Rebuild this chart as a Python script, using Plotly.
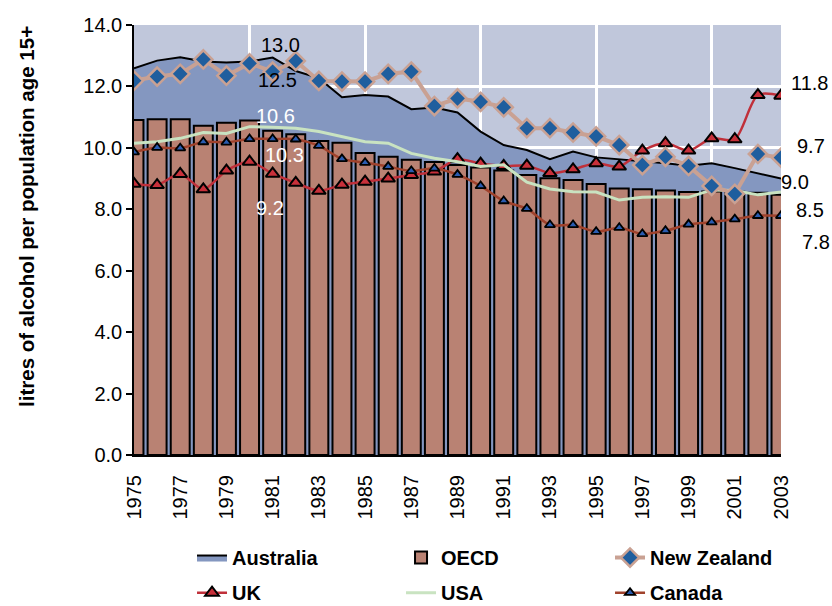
import plotly.graph_objects as go

# ---------------- data ----------------
years = list(range(1975, 2004))

australia = [12.59, 12.84, 12.95, 12.81, 12.78, 12.81, 12.94, 12.50, 12.27, 11.65,
             11.72, 11.67, 11.26, 11.31, 11.15, 10.53, 10.09, 9.93, 9.63, 9.88,
             9.69, 9.63, 9.58, 9.50, 9.42, 9.50, 9.34, 9.17, 9.00]

oecd = [10.91, 10.93, 10.93, 10.72, 10.82, 10.89, 10.56, 10.44, 10.22, 10.17,
        9.83, 9.71, 9.61, 9.54, 9.44, 9.36, 9.26, 9.12, 9.01, 8.95,
        8.82, 8.68, 8.65, 8.61, 8.56, 8.58, 8.57, 8.54, 8.47]

new_zealand = [12.19, 12.32, 12.41, 12.88, 12.35, 12.75, 12.48, 12.83, 12.18, 12.16,
               12.16, 12.41, 12.48, 11.36, 11.61, 11.50, 11.32, 10.64, 10.64, 10.50,
               10.37, 10.09, 9.44, 9.71, 9.41, 8.76, 8.50, 9.80, 9.68]

uk = [8.83, 8.79, 9.15, 8.65, 9.26, 9.55, 9.16, 8.86, 8.60, 8.80,
      8.90, 9.00, 9.12, 9.23, 9.63, 9.49, 9.41, 9.42, 9.18, 9.30,
      9.50, 9.39, 9.91, 10.15, 9.91, 10.31, 10.28, 11.72, 11.70]

usa = [10.15, 10.20, 10.31, 10.50, 10.47, 10.69, 10.67, 10.64, 10.53, 10.37,
       10.20, 10.15, 9.82, 9.66, 9.55, 9.39, 9.45, 8.88, 8.66, 8.57,
       8.56, 8.30, 8.39, 8.41, 8.39, 8.63, 8.61, 8.47, 8.56]

canada = [9.86, 10.01, 9.99, 10.19, 10.18, 10.29, 10.29, 10.28, 10.07, 9.64,
          9.52, 9.39, 9.25, 9.33, 9.13, 8.76, 8.27, 8.02, 7.49, 7.49,
          7.27, 7.40, 7.20, 7.30, 7.51, 7.58, 7.68, 7.79, 7.79]

x_tick_vals = list(range(1975, 2004, 2))
x_tick_labels = [str(v) for v in x_tick_vals]
y_tick_vals = [0, 2, 4, 6, 8, 10, 12, 14]
y_tick_labels = ["0.0", "2.0", "4.0", "6.0", "8.0", "10.0", "12.0", "14.0"]

# value labels (text, year position, value position, colour)
label_texts = ["13.0", "12.5", "10.6", "10.3", "9.2", "11.8", "9.7", "9.0", "8.5", "7.8"]
label_x = [1981.32, 1981.23, 1981.14, 1981.53, 1980.88, 2004.25, 2004.29, 2003.6, 2004.25, 2004.5]
label_y = [13.35, 12.21, 11.04, 9.77, 8.04, 12.11, 10.06, 8.89, 7.98, 6.94]
label_colors = ["black", "black", "white", "white", "white", "black", "black", "black", "black", "black"]

Y_TITLE = "litres of alcohol per population age 15+"
FONT = "Liberation Sans, Arial, sans-serif"
X0, X1 = 1975, 2003

fig = go.Figure()

fig.add_trace(go.Scatter(
    x=years, y=australia, name="Australia", mode="lines", fill="tozeroy",
    fillcolor="#8497C0", line=dict(color="black", width=2), yaxis="y", legend="legend"))

fig.add_trace(go.Bar(
    x=years, y=oecd, name="OECD", width=0.82,
    marker=dict(color="#B98273", line=dict(color="black", width=2)),
    yaxis="y2", legend="legend"))

fig.add_trace(go.Scatter(
    x=years, y=uk, name="UK", mode="lines+markers",
    line=dict(color="#C0303A", width=2.5, shape="spline", smoothing=0.8),
    marker=dict(symbol="triangle-up", size=12, color="#C8303A", line=dict(color="black", width=2)),
    yaxis="y2", legend="legend2"))

fig.add_trace(go.Scatter(
    x=years, y=usa, name="USA", mode="lines",
    line=dict(color="#C9E3C1", width=3), yaxis="y2", legend="legend2"))

fig.add_trace(go.Scatter(
    x=years, y=canada, name="Canada", mode="lines+markers",
    line=dict(color="#A0422C", width=2.5, shape="spline", smoothing=0.8),
    marker=dict(symbol="triangle-up", size=9, color="#2A5CB0", line=dict(color="black", width=1.8)),
    yaxis="y2", legend="legend2"))

fig.add_trace(go.Scatter(
    x=years, y=new_zealand, name="New Zealand", mode="lines+markers",
    line=dict(color="#C9A193", width=4),
    marker=dict(symbol="diamond", size=14, color="#1F5E9E", line=dict(color="#C9A193", width=2.5)),
    yaxis="y2", legend="legend"))

annotations = []
for t, xv, yv, c in zip(label_texts, label_x, label_y, label_colors):
    annotations.append(dict(x=(xv - X0) / (X1 - X0), y=yv, xref="paper", yref="y", text=t,
                            xanchor="center", yanchor="middle",
                            showarrow=False, font=dict(family=FONT, size=20, color=c)))
# y-axis title (placed as rotated text so it sits where the reference has it)
annotations.append(dict(x=-0.1654, y=0.556, xref="paper", yref="paper", text=Y_TITLE,
                        textangle=-90, showarrow=False, xanchor="center", yanchor="middle",
                        font=dict(family=FONT, size=20.5, color="black", weight="bold")))

legend_common = dict(orientation="h", xanchor="left", yanchor="middle",
                     xref="container", yref="container",
                     entrywidth=164, entrywidthmode="pixels",
                     font=dict(family=FONT, size=20, color="black", weight="bold"),
                     bgcolor="rgba(0,0,0,0)", tracegroupgap=0)

fig.update_layout(
    width=832, height=606,
    margin=dict(l=134, r=51, t=25, b=151),
    paper_bgcolor="white", plot_bgcolor="#C0C7DB",
    font=dict(family=FONT, size=20, color="black"),
    showlegend=True,
    legend=dict(x=0.2308, y=0.080, **legend_common),
    legend2=dict(x=0.2308, y=0.022, **legend_common),
    xaxis=dict(range=[X0, X1], tickmode="array", tickvals=x_tick_vals, ticktext=x_tick_labels,
               tickangle=-90, showgrid=False, zeroline=False,
               showline=True, linecolor="black", linewidth=2,
               ticks="outside", ticklen=10, tickcolor="rgba(0,0,0,0)",
               tickfont=dict(family=FONT, size=20),
               minor=dict(tickmode="linear", tick0=1975, dtick=5, showgrid=True,
                          gridcolor="white", gridwidth=2.5, ticks="inside", ticklen=2,
                          tickcolor="rgba(0,0,0,0)")),
    yaxis=dict(range=[0, 14], tickmode="array", tickvals=y_tick_vals, ticktext=y_tick_labels,
               showgrid=True, gridcolor="white", gridwidth=2.5, zeroline=False,
               showline=True, linecolor="black", linewidth=1.5,
               ticks="outside", ticklen=6, tickwidth=1.5, tickcolor="black",
               tickfont=dict(family=FONT, size=20)),
    yaxis2=dict(range=[0, 14], overlaying="y", visible=False),
    annotations=annotations,
)

fig.write_html("out.html", config={"displayModeBar": False},
               post_script="document.body.style.margin='0';")
